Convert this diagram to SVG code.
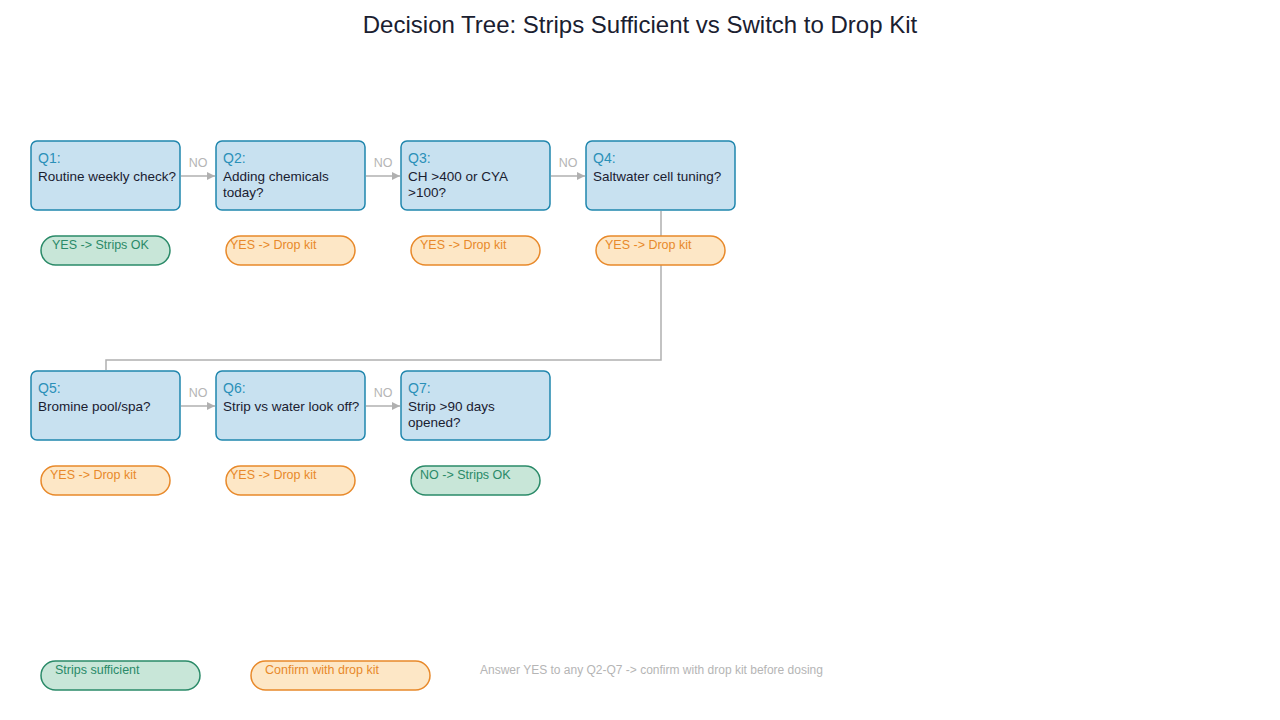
<svg xmlns="http://www.w3.org/2000/svg" width="1280" height="720" viewBox="0 0 1280 720">
<style>
text{font-family:"Liberation Sans",Arial,sans-serif}
.q rect{fill:#c8e1f0;stroke:#1f86ad;stroke-width:1.5}
.ql{fill:#2a90b8;font-size:14px}
.qt{fill:#1a2030;font-size:13.5px}
.g rect{fill:#c8e6d8;stroke:#2a8a68;stroke-width:1.5}
.g text{fill:#2a8a68;font-size:12.5px}
.o rect{fill:#fde7c6;stroke:#e8892a;stroke-width:1.5}
.o text{fill:#e8892a;font-size:12.5px}
.c{stroke:#b0b0b0;stroke-width:1.5;fill:none}
.n{fill:#b5b5b5;font-size:12.5px}
</style>
<defs><marker id="a" viewBox="0 0 10 10" refX="10" refY="5" markerWidth="8" markerHeight="8" markerUnits="userSpaceOnUse" orient="auto"><path d="M0,5 L10,0 L10,10 Z" fill="#b0b0b0" transform="rotate(180 5 5)"/></marker></defs>
<text x="640" y="33" text-anchor="middle" font-size="24" fill="#1a2030">Decision Tree: Strips Sufficient vs Switch to Drop Kit</text>
<g id="connectors">
<path class="c" d="M181,176 H215" marker-end="url(#a)"/><text class="n" x="198" y="167" text-anchor="middle">NO</text>
<path class="c" d="M366,176 H400" marker-end="url(#a)"/><text class="n" x="383" y="167" text-anchor="middle">NO</text>
<path class="c" d="M551,176 H585" marker-end="url(#a)"/><text class="n" x="568" y="167" text-anchor="middle">NO</text>
<path class="c" d="M661,211 V360 H106 V370"/>
<path class="c" d="M181,406 H215" marker-end="url(#a)"/><text class="n" x="198" y="397" text-anchor="middle">NO</text>
<path class="c" d="M366,406 H400" marker-end="url(#a)"/><text class="n" x="383" y="397" text-anchor="middle">NO</text>
</g>
<g id="q1" class="q"><rect x="31" y="141" width="149" height="69" rx="6"/><text class="ql" x="38" y="163">Q1:</text><text class="qt" x="38" y="181">Routine weekly check?</text></g>
<g id="q2" class="q"><rect x="216" y="141" width="149" height="69" rx="6"/><text class="ql" x="223" y="163">Q2:</text><text class="qt" x="223" y="181">Adding chemicals</text><text class="qt" x="223" y="197">today?</text></g>
<g id="q3" class="q"><rect x="401" y="141" width="149" height="69" rx="6"/><text class="ql" x="408" y="163">Q3:</text><text class="qt" x="408" y="181">CH &gt;400 or CYA</text><text class="qt" x="408" y="197">&gt;100?</text></g>
<g id="q4" class="q"><rect x="586" y="141" width="149" height="69" rx="6"/><text class="ql" x="593" y="163">Q4:</text><text class="qt" x="593" y="181">Saltwater cell tuning?</text></g>
<g id="q5" class="q"><rect x="31" y="371" width="149" height="69" rx="6"/><text class="ql" x="38" y="393">Q5:</text><text class="qt" x="38" y="411">Bromine pool/spa?</text></g>
<g id="q6" class="q"><rect x="216" y="371" width="149" height="69" rx="6"/><text class="ql" x="223" y="393">Q6:</text><text class="qt" x="223" y="411">Strip vs water look off?</text></g>
<g id="q7" class="q"><rect x="401" y="371" width="149" height="69" rx="6"/><text class="ql" x="408" y="393">Q7:</text><text class="qt" x="408" y="411">Strip &gt;90 days</text><text class="qt" x="408" y="427">opened?</text></g>
<g id="a1" class="g"><rect x="41" y="236" width="129" height="29" rx="14.5"/><text x="52" y="249">YES -&gt; Strips OK</text></g>
<g id="a2" class="o"><rect x="226" y="236" width="129" height="29" rx="14.5"/><text x="230" y="249">YES -&gt; Drop kit</text></g>
<g id="a3" class="o"><rect x="411" y="236" width="129" height="29" rx="14.5"/><text x="420" y="249">YES -&gt; Drop kit</text></g>
<g id="a4" class="o"><rect x="596" y="236" width="129" height="29" rx="14.5"/><text x="605" y="249">YES -&gt; Drop kit</text></g>
<g id="a5" class="o"><rect x="41" y="466" width="129" height="29" rx="14.5"/><text x="50" y="479">YES -&gt; Drop kit</text></g>
<g id="a6" class="o"><rect x="226" y="466" width="129" height="29" rx="14.5"/><text x="230" y="479">YES -&gt; Drop kit</text></g>
<g id="a7" class="g"><rect x="411" y="466" width="129" height="29" rx="14.5"/><text x="420" y="479">NO -&gt; Strips OK</text></g>
<g id="legend">
<g class="g"><rect x="41" y="661" width="159" height="29" rx="14.5"/><text x="55" y="674">Strips sufficient</text></g>
<g class="o"><rect x="251" y="661" width="179" height="29" rx="14.5"/><text x="265" y="674">Confirm with drop kit</text></g>
<text x="480" y="674" font-size="12" fill="#b5b5b5">Answer YES to any Q2-Q7 -&gt; confirm with drop kit before dosing</text>
</g>
</svg>
